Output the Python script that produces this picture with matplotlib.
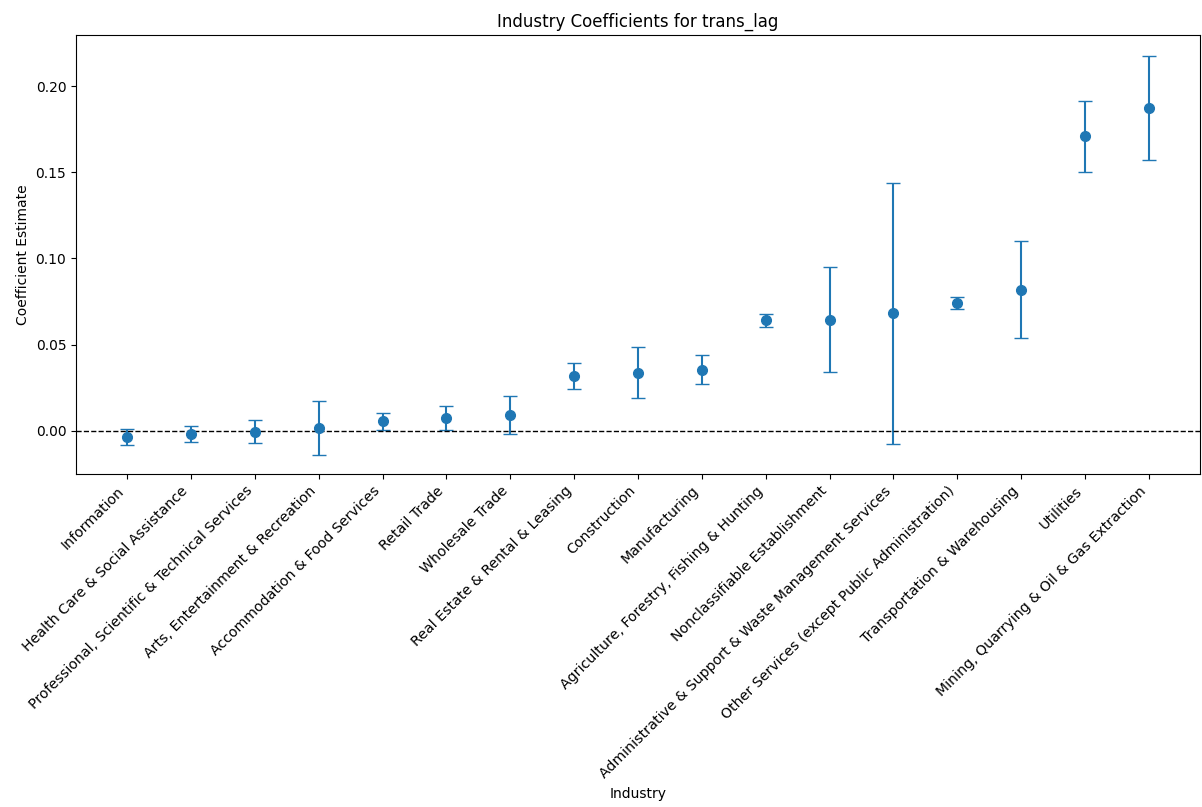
import matplotlib
matplotlib.use("Agg")
import matplotlib.pyplot as plt
import numpy as np

industries = [
    "Information",
    "Health Care & Social Assistance",
    "Professional, Scientific & Technical Services",
    "Arts, Entertainment & Recreation",
    "Accommodation & Food Services",
    "Retail Trade",
    "Wholesale Trade",
    "Real Estate & Rental & Leasing",
    "Construction",
    "Manufacturing",
    "Agriculture, Forestry, Fishing & Hunting",
    "Nonclassifiable Establishment",
    "Administrative & Support & Waste Management Services",
    "Other Services (except Public Administration)",
    "Transportation & Warehousing",
    "Utilities",
    "Mining, Quarrying & Oil & Gas Extraction",
]

coefficients = [
    -0.0033, -0.0020, -0.0004, 0.0016, 0.0055, 0.0076, 0.0094,
    0.0320, 0.0337, 0.0356, 0.0641, 0.0645, 0.0681, 0.0741,
    0.0819, 0.1709, 0.1873,
]

ci_half_width = [
    0.0046, 0.0047, 0.0068, 0.0157, 0.0051, 0.0070, 0.0111,
    0.0075, 0.0149, 0.0086, 0.0039, 0.0305, 0.0755, 0.0036,
    0.0280, 0.0205, 0.0304,
]

fig = plt.figure(figsize=(12.02, 8.07), dpi=100)
ax = fig.add_axes([76 / 1202, 1 - 474 / 807, (1200 - 76) / 1202, (474 - 35) / 807])

x = np.arange(len(industries))
ax.errorbar(x, coefficients, yerr=ci_half_width, fmt="o", capsize=5,
            markersize=7, color="#1f77b4")
ax.axhline(0, color="black", linestyle="--", linewidth=1)

ax.set_xticks(x)
ax.set_xticklabels(industries, rotation=45, ha="right", fontsize=10.2)
ax.set_xlim(-0.8, len(industries) - 1 + 0.8)
ax.set_ylim(-0.025, 0.2296)

ax.set_title("Industry Coefficients for trans_lag")
ax.set_xlabel("Industry", labelpad=5)
ax.set_ylabel("Coefficient Estimate")

fig.savefig("out.png", dpi=100)
